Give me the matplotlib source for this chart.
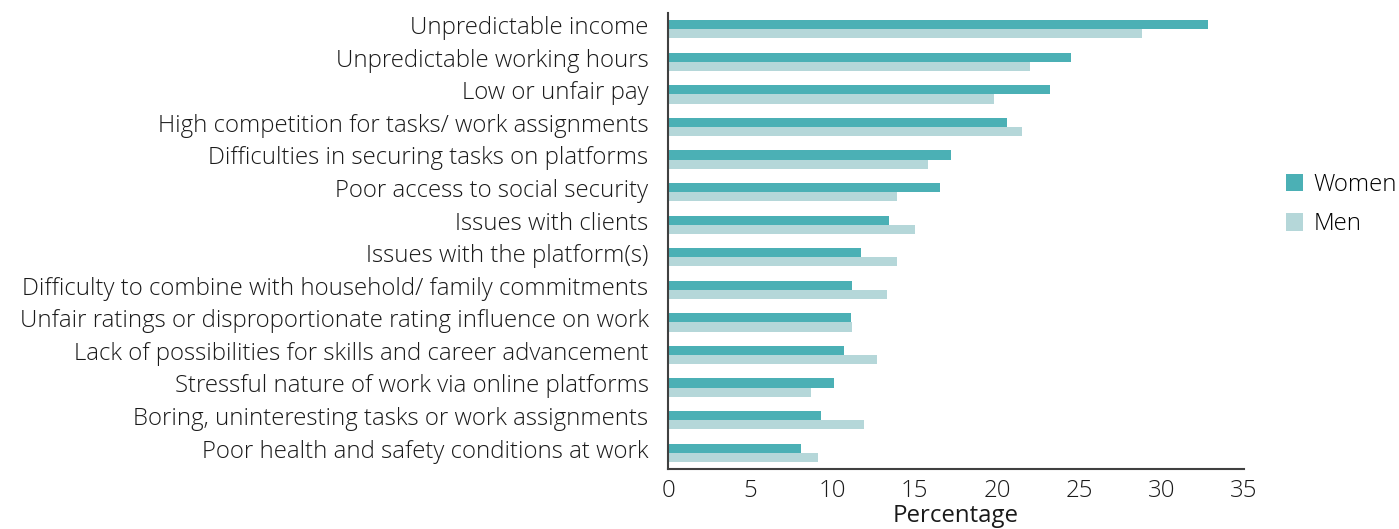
import matplotlib.pyplot as plt
import matplotlib.transforms as mtransforms
import numpy as np

categories = [
    "Unpredictable income",
    "Unpredictable working hours",
    "Low or unfair pay",
    "High competition for tasks/ work assignments",
    "Difficulties in securing tasks on platforms",
    "Poor access to social security",
    "Issues with clients",
    "Issues with the platform(s)",
    "Difficulty to combine with household/ family commitments",
    "Unfair ratings or disproportionate rating influence on work",
    "Lack of possibilities for skills and career advancement",
    "Stressful nature of work via online platforms",
    "Boring, uninteresting tasks or work assignments",
    "Poor health and safety conditions at work",
]
women = [32.8, 24.5, 23.2, 20.6, 17.2, 16.5, 13.4, 11.7, 11.2, 11.1, 10.7, 10.1, 9.3, 8.1]
men = [28.8, 22.0, 19.8, 21.5, 15.8, 13.9, 15.0, 13.9, 13.3, 11.2, 12.7, 8.7, 11.9, 9.1]

plt.rcParams['font.family'] = ['Open Sans', 'DejaVu Sans']
plt.rcParams['font.weight'] = 'light'

fs = 17.3
fig = plt.figure(figsize=(13.99, 5.29), dpi=100)
ax = fig.add_axes([0.4775, 0.1134, 0.4117, 0.862])

y = np.arange(len(categories))
h = 0.28
ax.barh(y - h / 2, women, height=h, color="#4bb0b5", label="Women")
ax.barh(y + h / 2, men, height=h, color="#b5d7d9", label="Men")

ax.set_ylim(len(categories) - 0.5, -0.5)
ax.set_xlim(0, 35)
ax.set_xticks(range(0, 36, 5))
ax.set_yticks(y)
ax.set_yticklabels(categories)

for s in ["top", "right"]:
    ax.spines[s].set_visible(False)
for s in ["left", "bottom"]:
    ax.spines[s].set_color("#404040")
    ax.spines[s].set_linewidth(1.5)

ax.tick_params(axis="y", length=0, pad=14, labelsize=fs, labelcolor="#1a1a1a")
ax.tick_params(axis="x", length=0, pad=7, labelsize=fs, labelcolor="#1a1a1a")
ax.set_xlabel("Percentage", fontsize=fs, color="#1a1a1a", labelpad=1)

# labels sit slightly above the bar pair centre in the original
shift = mtransforms.ScaledTranslation(0, 3 / 72, fig.dpi_scale_trans)
for lbl in ax.get_yticklabels():
    lbl.set_transform(lbl.get_transform() + shift)

ax.legend(loc="center left", bbox_to_anchor=(1.035, 0.58), frameon=False, fontsize=fs,
          handlelength=0.72, handleheight=0.72, handletextpad=0.45, labelspacing=0.65)

fig.savefig("out.png", dpi=100)
